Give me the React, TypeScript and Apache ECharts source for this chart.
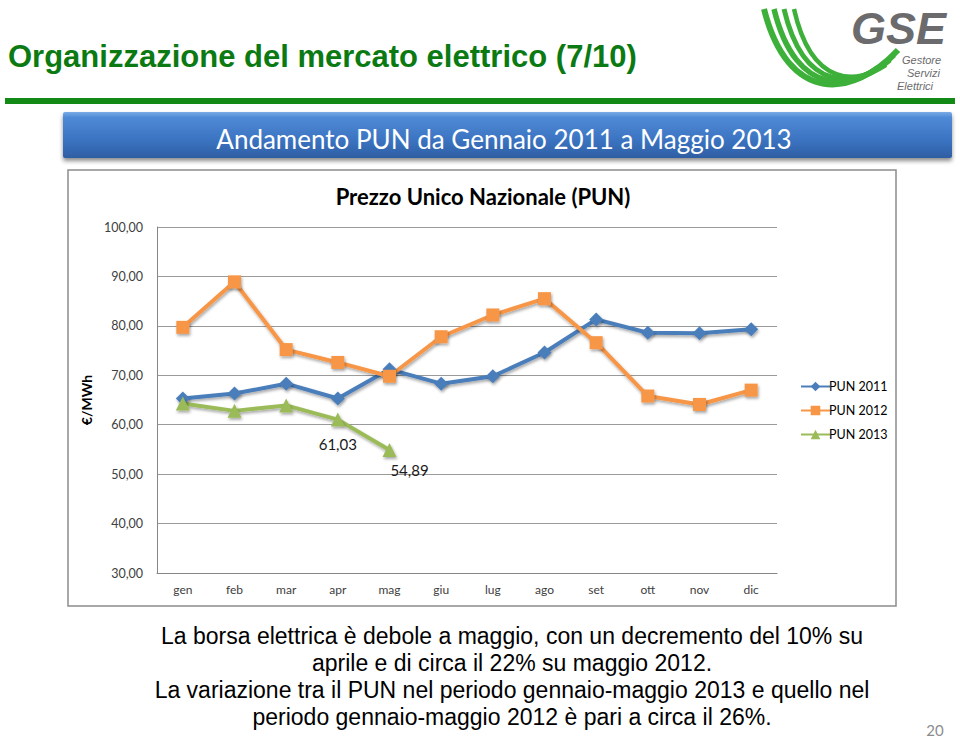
import React, { useEffect, useRef } from "react";
import * as echarts from "echarts";

const months = ["gen", "feb", "mar", "apr", "mag", "giu", "lug", "ago", "set", "ott", "nov", "dic"];
const pun2011 = [65.3, 66.3, 68.3, 65.3, 71.2, 68.3, 69.8, 74.6, 81.3, 78.6, 78.5, 79.3];
const pun2012 = [79.7, 88.9, 75.2, 72.6, 69.8, 77.8, 82.2, 85.5, 76.6, 65.8, 64.1, 67.0];
const pun2013 = [64.3, 62.8, 63.9, 61.03, 54.89];
const seriesNames = ["PUN 2011", "PUN 2012", "PUN 2013"];
const labelledPoints2013 = [3, 4];

const slideTitle = "Organizzazione del mercato elettrico (7/10)";
const bannerText = "Andamento PUN da Gennaio 2011 a Maggio 2013";
const chartTitle = "Prezzo Unico Nazionale (PUN)";
const yName = "€/MWh";
const logoSubLines = ["Gestore", "Servizi", "Elettrici"];
const bodyLines = [
  "La borsa elettrica è debole a maggio, con un decremento del 10% su",
  "aprile e di circa il 22% su maggio 2012.",
  "La variazione tra il PUN nel periodo gennaio-maggio 2013 e quello nel",
  "periodo gennaio-maggio 2012 è pari a circa il 26%.",
];
const pageNumber = "20";

const fmt = (v: number) => v.toFixed(2).replace(".", ",");

export default function App() {
  const ref = useRef<HTMLDivElement>(null);
  useEffect(() => {
    if (!ref.current) return;
    const chart = echarts.init(ref.current, undefined, { renderer: "svg" });
    const shadow = { shadowBlur: 3, shadowColor: "rgba(0,0,0,0.35)", shadowOffsetX: 1, shadowOffsetY: 2 };
    const colors = ["#4A7EBB", "#F79646", "#9BBB59"];

    const logoCurves = [0, 1, 2, 3].map((i) => ({
      type: "bezierCurve",
      shape: {
        x1: 764 + 10 * i,
        y1: 9,
        cpx1: 788 + 8 * i,
        cpy1: 104 - 5 * i,
        cpx2: 852 + 2 * i,
        cpy2: 99 - 5 * i,
        x2: 898 - 4 * i,
        y2: 50 + 5 * i,
      },
      style: { stroke: "#3DB03A", lineWidth: 6 - i * 0.5, fill: null },
    }));

    const option: any = {
      animation: false,
      backgroundColor: "#ffffff",
      color: colors,
      graphic: [
        {
          type: "text",
          x: 8,
          y: 56,
          style: {
            text: slideTitle,
            font: "bold 31px 'Liberation Sans', Arial, sans-serif",
            fill: "#0B7A12",
            verticalAlign: "middle",
          },
        },
        ...logoCurves,
        {
          type: "text",
          x: 946,
          y: 28,
          style: {
            text: "GSE",
            font: "italic bold 45px 'Liberation Sans', Arial, sans-serif",
            fill: "#6B6B6D",
            align: "right",
            verticalAlign: "middle",
          },
        },
        ...logoSubLines.map((t, i) => ({
          type: "text",
          x: [902, 907, 897][i],
          y: [60, 73, 86][i],
          style: {
            text: t,
            font: "italic 11px 'Liberation Sans', Arial, sans-serif",
            fill: "#6B6B6D",
            verticalAlign: "middle",
          },
        })),
        {
          type: "rect",
          shape: { x: 5, y: 98, width: 950, height: 6 },
          style: { fill: "#138A16" },
        },
        {
          type: "rect",
          shape: { x: 63, y: 112, width: 889, height: 46, r: 2 },
          style: {
            fill: new echarts.graphic.LinearGradient(0, 0, 0, 1, [
              { offset: 0, color: "#79ACE6" },
              { offset: 0.12, color: "#4F8AD6" },
              { offset: 0.6, color: "#3B74C2" },
              { offset: 1, color: "#2E5EA3" },
            ]),
            shadowBlur: 4,
            shadowOffsetY: 3,
            shadowColor: "rgba(0,0,0,0.45)",
          },
        },
        {
          type: "text",
          x: 504,
          y: 139,
          style: {
            text: bannerText,
            font: "26px Lato, 'Open Sans', sans-serif",
            fill: "#ffffff",
            align: "center",
            verticalAlign: "middle",
          },
        },
        {
          type: "rect",
          shape: { x: 68, y: 170, width: 828, height: 436 },
          style: { fill: "#ffffff", stroke: "#8C8C8C", lineWidth: 1.5 },
        },
        {
          type: "text",
          x: 483,
          y: 196,
          style: {
            text: chartTitle,
            font: "bold 22px Lato, 'Open Sans', sans-serif",
            fill: "#000000",
            align: "center",
            verticalAlign: "middle",
          },
        },
        ...bodyLines.map((t, i) => ({
          type: "text",
          x: 512,
          y: [636, 663, 690, 717][i],
          style: {
            text: t,
            font: "23px 'Liberation Sans', Arial, sans-serif",
            fill: "#000000",
            align: "center",
            verticalAlign: "middle",
          },
        })),
        {
          type: "text",
          x: 935,
          y: 730,
          style: {
            text: pageNumber,
            font: "15px Lato, sans-serif",
            fill: "#8C8C8C",
            align: "center",
            verticalAlign: "middle",
          },
        },
      ],
      grid: { left: 157, right: 183, top: 227, bottom: 165, containLabel: false },
      legend: {
        orient: "vertical",
        left: 795,
        top: 375,
        itemWidth: 29,
        itemHeight: 12,
        itemGap: 11,
        textStyle: { fontFamily: "Lato", fontSize: 12.5, color: "#000", padding: [0, 0, 0, -6] },
        data: seriesNames,
      },
      xAxis: {
        type: "category",
        data: months,
        boundaryGap: true,
        axisLine: { lineStyle: { color: "#868686", width: 1 } },
        axisTick: { show: false },
        axisLabel: { fontFamily: "Lato", fontSize: 12, color: "#404040", margin: 10 },
      },
      yAxis: {
        type: "value",
        min: 30,
        max: 100,
        interval: 10,
        name: yName,
        nameLocation: "middle",
        nameGap: 59,
        nameRotate: 90,
        nameTextStyle: { fontFamily: "Lato", fontSize: 14, fontWeight: "bold", color: "#000" },
        axisLine: { show: true, lineStyle: { color: "#868686", width: 1 } },
        axisTick: { show: false },
        splitLine: { lineStyle: { color: "#9A9A9A", width: 1 } },
        axisLabel: { fontFamily: "Lato", fontSize: 12.5, color: "#404040", margin: 14, formatter: fmt },
      },
      series: [
        {
          name: seriesNames[0],
          type: "line",
          data: pun2011,
          symbol: "diamond",
          symbolSize: 14,
          lineStyle: { width: 4, ...shadow },
          itemStyle: { ...shadow },
        },
        {
          name: seriesNames[1],
          type: "line",
          data: pun2012,
          symbol: "rect",
          symbolSize: 13,
          lineStyle: { width: 4, ...shadow },
          itemStyle: { ...shadow },
        },
        {
          name: seriesNames[2],
          type: "line",
          data: pun2013.map((v, i) =>
            labelledPoints2013.includes(i)
              ? {
                  value: v,
                  label: {
                    show: true,
                    position: "bottom",
                    distance: i === 3 ? 10 : 6,
                    offset: i === 3 ? [0, 0] : [20, 0],
                    formatter: () => fmt(v),
                    fontFamily: "Lato",
                    fontSize: 15,
                    color: "#1a1a1a",
                  },
                }
              : v
          ),
          symbol: "triangle",
          symbolSize: 14,
          lineStyle: { width: 4, ...shadow },
          itemStyle: { ...shadow },
        },
      ],
    };
    chart.setOption(option);
    return () => chart.dispose();
  }, []);

  return (
    <div
      ref={ref}
      style={{ position: "fixed", left: 0, top: 0, width: 960, height: 738 }}
    />
  );
}
